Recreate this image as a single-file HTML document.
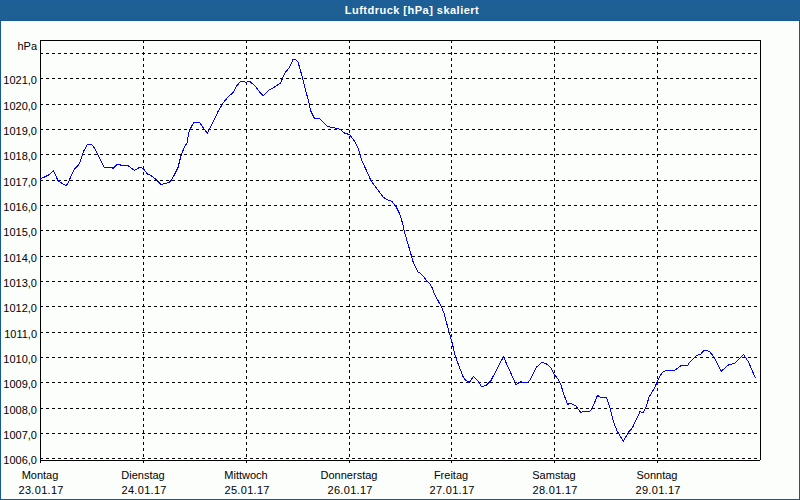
<!DOCTYPE html>
<html><head><meta charset="utf-8"><style>
html,body{margin:0;padding:0;width:800px;height:500px;overflow:hidden;background:#fcfefc;}
#f{position:absolute;left:0;top:0;width:800px;height:500px;background:#fcfefc;}
#hd{position:absolute;left:0;top:0;width:800px;height:20px;background:#1d5f93;}
#hl{position:absolute;left:0;top:20px;width:800px;height:1px;background:#135a90;}
#bl{position:absolute;left:0;top:20px;width:1px;height:480px;background:#135a90;}
#br{position:absolute;left:799px;top:20px;width:1px;height:480px;background:#135a90;}
#bb{position:absolute;left:0;top:499px;width:800px;height:1px;background:#135a90;}
#tt{position:absolute;left:300px;top:3px;width:224px;text-align:center;color:#fff;font:bold 11px/14px "Liberation Sans",sans-serif;letter-spacing:0.48px;}
svg{position:absolute;left:0;top:0;}
.d{stroke:#000;stroke-width:1;stroke-dasharray:3 3;fill:none;shape-rendering:crispEdges;}
.a{stroke:#000;stroke-width:1;fill:none;shape-rendering:crispEdges;}
.p{stroke:#0000f8;stroke-width:1;fill:none;shape-rendering:crispEdges;}
.yl{position:absolute;left:0;width:37px;text-align:right;font:11px/13px "Liberation Sans",sans-serif;color:#000;}
.dt{letter-spacing:0.3px;text-indent:0.3px;}
.xl{position:absolute;width:100px;text-align:center;font:11px/13px "Liberation Sans",sans-serif;color:#000;}
</style></head><body><div id="f">
<div id="hd"><svg width="800" height="20"><defs><pattern id="dp" width="8" height="20" patternUnits="userSpaceOnUse"><g fill="#2162a6"><rect x="0" y="0" width="1" height="1"/><rect x="4" y="1" width="1" height="1"/><rect x="1" y="2" width="1" height="1"/><rect x="6" y="2" width="1" height="1"/><rect x="3" y="4" width="1" height="1"/><rect x="0" y="5" width="1" height="1"/><rect x="5" y="5" width="1" height="1"/><rect x="3" y="7" width="1" height="1"/><rect x="7" y="8" width="1" height="1"/><rect x="1" y="9" width="1" height="1"/><rect x="5" y="9" width="1" height="1"/><rect x="0" y="11" width="1" height="1"/><rect x="4" y="11" width="1" height="1"/><rect x="2" y="13" width="1" height="1"/><rect x="6" y="13" width="1" height="1"/><rect x="1" y="15" width="1" height="1"/><rect x="5" y="15" width="1" height="1"/><rect x="0" y="17" width="1" height="1"/><rect x="4" y="17" width="1" height="1"/><rect x="2" y="19" width="1" height="1"/><rect x="6" y="19" width="1" height="1"/></g></pattern></defs><rect width="800" height="20" fill="url(#dp)" shape-rendering="crispEdges"/></svg></div><div id="hl"></div><div id="bl"></div><div id="br"></div><div id="bb"></div>
<div id="tt">Luftdruck [hPa] skaliert</div>
<svg width="800" height="500" viewBox="0 0 800 500">
<line x1="40" y1="53.5" x2="760" y2="53.5" class="d"/>
<line x1="40" y1="78.5" x2="760" y2="78.5" class="d"/>
<line x1="40" y1="104.5" x2="760" y2="104.5" class="d"/>
<line x1="40" y1="129.5" x2="760" y2="129.5" class="d"/>
<line x1="40" y1="154.5" x2="760" y2="154.5" class="d"/>
<line x1="40" y1="180.5" x2="760" y2="180.5" class="d"/>
<line x1="40" y1="205.5" x2="760" y2="205.5" class="d"/>
<line x1="40" y1="230.5" x2="760" y2="230.5" class="d"/>
<line x1="40" y1="256.5" x2="760" y2="256.5" class="d"/>
<line x1="40" y1="281.5" x2="760" y2="281.5" class="d"/>
<line x1="40" y1="306.5" x2="760" y2="306.5" class="d"/>
<line x1="40" y1="332.5" x2="760" y2="332.5" class="d"/>
<line x1="40" y1="357.5" x2="760" y2="357.5" class="d"/>
<line x1="40" y1="382.5" x2="760" y2="382.5" class="d"/>
<line x1="40" y1="408.5" x2="760" y2="408.5" class="d"/>
<line x1="40" y1="433.5" x2="760" y2="433.5" class="d"/>
<line x1="40" y1="458.5" x2="760" y2="458.5" class="d"/>
<line x1="143.5" y1="40" x2="143.5" y2="463" class="d"/>
<line x1="246.5" y1="40" x2="246.5" y2="463" class="d"/>
<line x1="349.5" y1="40" x2="349.5" y2="463" class="d"/>
<line x1="451.5" y1="40" x2="451.5" y2="463" class="d"/>
<line x1="554.5" y1="40" x2="554.5" y2="463" class="d"/>
<line x1="657.5" y1="40" x2="657.5" y2="463" class="d"/>
<path d="M40.5 463V40.5H760.5V460M40 460.5H760" class="a"/>
<polyline points="40.0,178.6 43.6,177.4 46.0,176.2 48.4,175.3 53.5,170.5 58.0,180.7 61.6,183.1 65.8,185.5 67.6,184.0 69.4,179.8 74.2,169.6 79.6,163.6 83.8,151.0 87.4,144.4 91.6,144.4 95.2,149.2 104.2,167.3 111.6,167.3 113.0,168.6 117.2,164.5 119.8,164.5 121.0,165.5 127.5,165.4 134.5,170.3 139.8,167.3 143.1,168.4 147.6,174.3 150.6,175.3 156.6,179.8 160.8,184.5 165.0,183.4 169.2,182.6 171.6,179.8 174.6,174.4 178.0,167.5 181.0,155.5 184.0,148.0 187.0,142.7 189.2,130.7 193.7,122.5 199.5,122.5 203.2,127.7 207.4,133.2 214.6,119.0 218.2,111.0 223.0,103.2 227.8,97.2 233.2,92.4 236.8,85.8 239.8,82.2 242.8,81.0 245.8,82.4 249.4,81.2 254.8,85.5 259.5,92.0 263.5,95.8 268.5,90.5 274.5,87.0 280.5,83.0 284.5,73.5 289.5,67.5 293.0,59.5 296.0,60.0 298.0,62.0 301.8,75.2 305.4,89.6 309.5,104.5 310.5,110.5 314.4,118.2 319.6,118.3 327.3,126.3 330.8,127.3 333.6,127.7 338.5,128.5 341.5,130.5 344.5,133.0 347.5,134.0 350.0,135.0 354.0,140.5 357.5,146.5 359.5,152.0 361.5,160.0 362.2,161.3 366.0,169.6 370.8,180.2 374.5,185.5 382.8,196.6 385.5,198.8 388.8,200.2 391.8,201.4 395.4,205.4 399.9,214.4 402.6,223.4 404.4,231.5 408.0,244.0 411.4,255.8 413.0,261.4 415.0,266.2 417.8,271.8 419.4,272.6 423.4,276.2 426.6,280.6 429.8,283.8 432.2,287.8 434.6,294.2 441.6,307.2 444.0,313.2 448.8,331.2 451.8,341.2 455.4,356.8 459.6,367.6 463.0,376.4 465.4,380.0 469.4,382.6 473.4,376.2 479.0,382.4 481.4,386.6 486.0,385.4 490.8,380.8 503.4,356.8 508.0,367.0 516.0,384.4 520.8,381.6 523.5,382.4 527.2,382.4 530.0,380.4 536.4,367.2 541.6,362.6 545.8,363.3 550.7,367.5 554.2,374.5 558.4,379.4 560.5,383.6 564.0,394.8 567.6,404.4 570.6,403.2 576.0,406.2 580.8,412.6 583.2,411.6 589.8,411.5 592.6,407.3 597.5,395.4 601.0,397.5 606.6,397.5 610.1,408.0 613.6,422.0 617.1,431.1 623.4,441.2 628.3,432.5 632.5,427.6 640.0,411.6 643.0,412.6 646.0,407.4 649.0,397.2 650.8,394.2 653.8,389.4 657.4,381.6 661.0,374.4 663.0,372.0 666.4,370.2 674.8,370.2 680.4,366.0 682.8,365.4 687.6,365.4 689.6,362.4 696.4,355.6 700.4,354.4 704.4,350.2 706.8,350.4 709.6,351.6 714.0,357.2 721.2,371.4 727.4,365.6 729.8,364.4 734.6,363.6 743.4,354.4 748.6,362.2 755.4,378.0" class="p"/>
</svg>
<div class="yl" style="top:40px">hPa</div>
<div class="yl" style="top:74px">1021,0</div>
<div class="yl" style="top:100px">1020,0</div>
<div class="yl" style="top:125px">1019,0</div>
<div class="yl" style="top:150px">1018,0</div>
<div class="yl" style="top:176px">1017,0</div>
<div class="yl" style="top:201px">1016,0</div>
<div class="yl" style="top:226px">1015,0</div>
<div class="yl" style="top:252px">1014,0</div>
<div class="yl" style="top:277px">1013,0</div>
<div class="yl" style="top:302px">1012,0</div>
<div class="yl" style="top:328px">1011,0</div>
<div class="yl" style="top:353px">1010,0</div>
<div class="yl" style="top:378px">1009,0</div>
<div class="yl" style="top:404px">1008,0</div>
<div class="yl" style="top:429px">1007,0</div>
<div class="yl" style="top:454px">1006,0</div>
<div class="xl" style="left:-10px;top:469px">Montag</div>
<div class="xl dt" style="left:-9px;top:484px">23.01.17</div>
<div class="xl" style="left:93px;top:469px">Dienstag</div>
<div class="xl dt" style="left:94px;top:484px">24.01.17</div>
<div class="xl" style="left:196px;top:469px">Mittwoch</div>
<div class="xl dt" style="left:197px;top:484px">25.01.17</div>
<div class="xl" style="left:299px;top:469px">Donnerstag</div>
<div class="xl dt" style="left:300px;top:484px">26.01.17</div>
<div class="xl" style="left:401px;top:469px">Freitag</div>
<div class="xl dt" style="left:402px;top:484px">27.01.17</div>
<div class="xl" style="left:504px;top:469px">Samstag</div>
<div class="xl dt" style="left:505px;top:484px">28.01.17</div>
<div class="xl" style="left:607px;top:469px">Sonntag</div>
<div class="xl dt" style="left:608px;top:484px">29.01.17</div>
</div></body></html>
